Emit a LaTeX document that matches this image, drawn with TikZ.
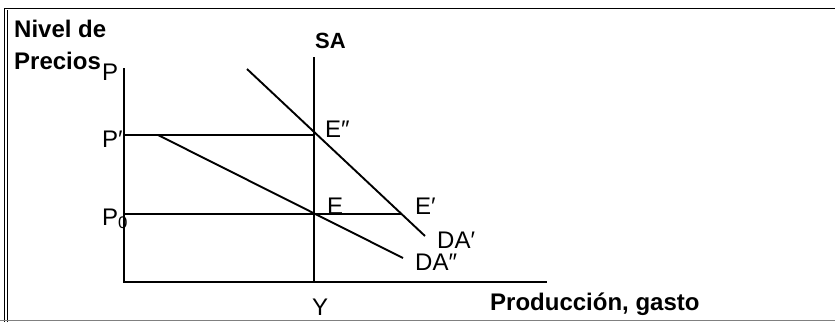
\documentclass[tikz,border=0pt]{standalone}
\usepackage{fontspec}
\setmainfont{Liberation Sans}
\tikzset{
  lbl/.style={anchor=base west,inner sep=0pt,font=\fontsize{24}{26}\selectfont},
  ttl/.style={anchor=base west,inner sep=0pt,font=\fontsize{24}{26}\selectfont\bfseries},
  axis/.style={line width=1.5pt},
  curve/.style={line width=1.9pt},
  guide/.style={line width=1.2pt}
}
\begin{document}
\begin{tikzpicture}[x=1pt,y=-1pt]
  \useasboundingbox (0,0) rectangle (835,322);
  % Frame
  \draw[line width=1pt] (4,322) -- (4,8) -- (835,8);
  \draw[line width=1pt] (7,322) -- (7,10);
  \draw[line width=0.7pt,gray] (0,320) -- (835,320);
  % Points
  \coordinate (O) at (124,282);
  \coordinate (ytop) at (124,68);
  \coordinate (xend) at (547,282);
  \coordinate (satop) at (314,57);
  \coordinate (yq) at (314,282);
  \coordinate (pone) at (124,135);
  \coordinate (pzero) at (124,214);
  \coordinate (Edd) at (314,135);
  \coordinate (E) at (314,214);
  \coordinate (Ed) at (401,214);
  \coordinate (dadd1) at (158,135);
  \coordinate (dadd2) at (403,258);
  \coordinate (dad1) at (247,69);
  \coordinate (dad2) at (425,236);
  % Axes
  \draw[axis] (ytop) -- (O) -- (xend);
  % Supply curve SA
  \draw[axis] (satop) -- (yq);
  % Price levels
  \draw[guide] (pone) -- (Edd);
  \draw[guide] (pzero) -- (Ed);
  % Demand curves
  \draw[curve] (dadd1) -- (dadd2);
  \draw[curve] (dad1) -- (dad2);
  % Labels
  \node[ttl] (nivel) at (14,37) {Nivel de};
  \node[ttl] (precios) at (14,69) {Precios};
  \node[lbl] (lp) at (102,80) {P};
  \node[lbl] (lpone) at (102,147) {P′};
  \node[lbl] (lpzero) at (102,225) {P\textsubscript{0}};
  \node[lbl,font=\fontsize{22}{24}\selectfont\bfseries] (lsa) at (315,48) {SA};
  \node[lbl] (lEdd) at (325,137) {E″};
  \node[lbl] (lE) at (327,214) {E};
  \node[lbl] (lEd) at (415,214) {E′};
  \node[lbl] (ldad) at (437,248) {DA′};
  \node[lbl] (ldadd) at (415,270) {DA″};
  \node[lbl] (ly) at (312,315) {Y};
  \node[ttl] (prod) at (490,310) {Producción, gasto};
\end{tikzpicture}
\end{document}
